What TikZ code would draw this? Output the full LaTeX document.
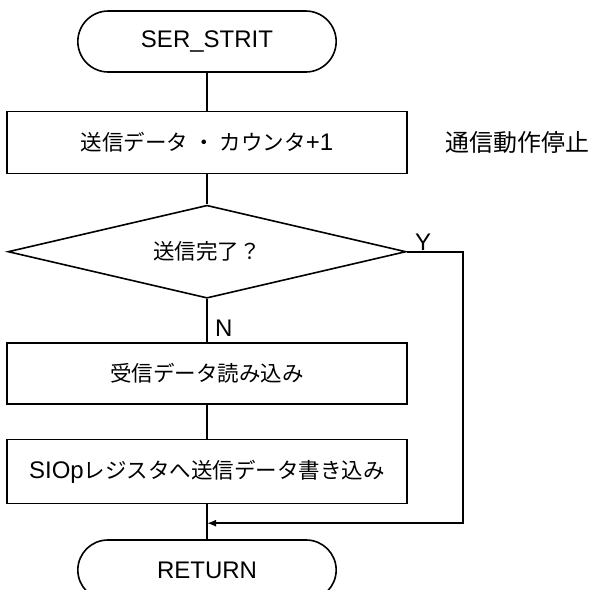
\documentclass[tikz,border=0pt]{standalone}
\usepackage{fontspec}
\setmainfont{Liberation Sans}
\newfontfamily\jp[Scale=0.896]{Noto Sans CJK JP}
\usetikzlibrary{positioning,shapes.geometric,shapes.misc,arrows.meta}

\tikzstyle{terminal} = [rounded rectangle, draw, minimum width=265pt, minimum height=61pt]
\tikzstyle{block} = [rectangle, draw, minimum width=400pt, minimum height=62pt]
\tikzstyle{decision} = [diamond, draw, aspect=4.3, minimum width=398pt, minimum height=93pt, inner sep=0pt]
\tikzstyle{line} = [draw, -{Latex[length=9pt, width=7pt]}]

\begin{document}
\begin{tikzpicture}[line width=1.6pt, font=\fontsize{24pt}{28pt}\selectfont]
		\useasboundingbox (0,0) rectangle (590pt,-590pt);
		\node [terminal] (Start) at (207pt,-41.5pt) {SER\_STRIT};
		\node [block, below=38pt of Start] (CountUp) {{\jp 送信データ\hspace{5pt}・\hspace{5pt}カウンタ}+1};
		\node [right=37pt of CountUp, inner sep=0pt, font=\fontsize{26.7pt}{30pt}\selectfont] (Note) {\jp 通信動作停止};
		\node [decision, below=30pt of CountUp] (SendDone) {\jp 送信完了？};
		\node [block, below=43pt of SendDone, minimum height=61pt] (ReadData) {\jp 受信データ読み込み};
		\node [block, below=34pt of ReadData, minimum height=64pt] (WriteReg) {SIOp{\jp レジスタへ送信データ書き込み}};
		\node [terminal, below=35pt of WriteReg, minimum height=60pt] (Return) {RETURN};
		\coordinate [below=19pt of WriteReg] (Join);
		
		\draw (Start) -- (CountUp);
		\draw (CountUp) -- (SendDone);
		\draw (SendDone) -- node [pos=0.68, right=4pt] {N} (ReadData);
		\draw (ReadData) -- (WriteReg);
		\draw (WriteReg) -- (Return);
		\path [line] (SendDone.east) -- node [pos=0.29, above, inner sep=0pt] {Y} ++(56pt,0pt) |- (Join);
	\end{tikzpicture}
\end{document}
